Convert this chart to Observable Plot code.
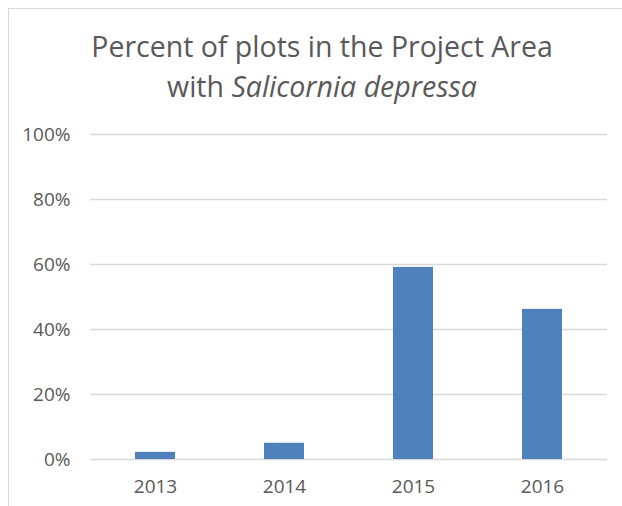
<!DOCTYPE html>
<html>
<head>
<meta charset="utf-8">
<script src="https://cdn.jsdelivr.net/npm/d3@7"></script>
<script src="https://cdn.jsdelivr.net/npm/@observablehq/plot@0.6"></script>
<style>
  html, body { margin: 0; padding: 0; background: #fff; }
  body { width: 622px; height: 506px; position: relative; overflow: hidden; font-family: "Open Sans", sans-serif; }
  #frame { position: absolute; left: 8px; top: 8px; width: 640px; height: 520px; border-left: 1px solid #d9d9d9; border-top: 1px solid #d9d9d9; pointer-events: none; }
  #title { height: 118px; box-sizing: border-box; padding-top: 26px; text-align: center; color: #595959; font-size: 28.5px; line-height: 40px; padding-left: 22px; }
  #chart svg { display: block; }
</style>
</head>
<body>
<div id="frame"></div>
<div id="title">Percent of plots in the Project Area<br>with <i>Salicornia depressa</i></div>
<div id="chart"></div>
<script>
const years = ["2013", "2014", "2015", "2016"];
const percents = [0.022, 0.050, 0.591, 0.462];
const yTicks = [0, 0.2, 0.4, 0.6, 0.8, 1.0];

const data = years.map((year, i) => ({year, value: percents[i]}));

const chart = Plot.plot({
  width: 622,
  height: 388,
  marginTop: 16,
  marginBottom: 47,
  marginLeft: 90,
  marginRight: 15,
  style: {fontFamily: "Open Sans, sans-serif", fontSize: "19px", color: "#595959", background: "#fff"},
  x: {domain: years, paddingInner: 0.69, paddingOuter: 0.345, label: null},
  y: {domain: [0, 1], label: null},
  marks: [
    Plot.ruleY(yTicks, {stroke: "#d9d9d9", strokeWidth: 1.3}),
    Plot.barY(data, {x: "year", y: "value", fill: "#4f81bd"}),
    Plot.axisX({tickSize: 0, tickPadding: 20, fill: "#595959"}),
    Plot.axisY({ticks: yTicks, tickFormat: d3.format(".0%"), tickSize: 0, tickPadding: 20, fill: "#595959"})
  ]
});
document.getElementById("chart").appendChild(chart);
</script>
</body>
</html>
